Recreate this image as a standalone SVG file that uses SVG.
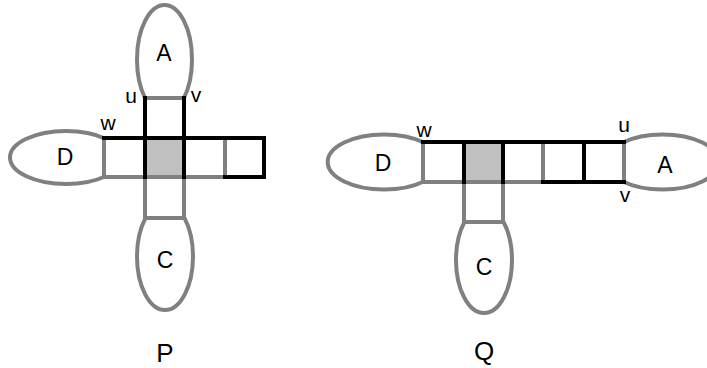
<svg xmlns="http://www.w3.org/2000/svg" width="707" height="368" viewBox="0 0 707 368">
<style>
.ell{fill:#fff;stroke:#808080;stroke-width:4}
.cell{fill:#fff;stroke:none}
.shade{fill:#c0c0c0;stroke:none}
.g{stroke:#808080;stroke-width:4;fill:none;stroke-linecap:square}
.k{stroke:#000;stroke-width:4;fill:none;stroke-linecap:square}
.big{font-family:"Liberation Sans",Arial,sans-serif;font-size:23px;text-anchor:middle;fill:#000}
.sm{font-family:"Liberation Sans",Arial,sans-serif;font-size:21px;text-anchor:middle;fill:#000}
.ttl{font-family:"Liberation Sans",Arial,sans-serif;font-size:26px;text-anchor:middle;fill:#000}
</style>
<rect width="707" height="368" fill="#fff"/>
<g id="P">
  <g id="P-A"><ellipse class="ell" cx="164.5" cy="59.5" rx="27.5" ry="54.5"/></g>
  <g id="P-C"><ellipse class="ell" cx="165" cy="256.5" rx="28" ry="53.5"/></g>
  <g id="P-D"><ellipse class="ell" cx="66" cy="157.5" rx="56" ry="26.5"/></g>
  <g id="P-cells">
    <rect class="cell" x="104" y="138" width="160" height="39"/>
    <rect class="cell" x="145" y="98" width="39" height="120"/>
    <rect class="shade" x="145" y="138" width="39" height="39"/>
  </g>
  <g id="P-lines">
    <path class="g" d="M145 98H184 M104 138V177 M104 177H225 M225 138V177 M145 177V218H184V177"/>
    <path class="k" d="M145 98V177 M184 98V177 M104 138H264V177H225"/>
  </g>
  <text class="big" x="164" y="61">A</text>
  <text class="big" x="165" y="268">C</text>
  <text class="big" x="65" y="165">D</text>
  <text class="sm" x="131" y="103">u</text>
  <text class="sm" x="196" y="102">v</text>
  <text class="sm" x="108" y="130">w</text>
  <text class="ttl" x="165" y="362">P</text>
</g>
<g id="Q">
  <g id="Q-D"><ellipse class="ell" cx="384" cy="162" rx="56.3" ry="27.5"/></g>
  <g id="Q-A"><ellipse class="ell" cx="662.6" cy="162" rx="56.3" ry="27.5"/></g>
  <g id="Q-C"><ellipse class="ell" cx="484" cy="260" rx="28" ry="53"/></g>
  <g id="Q-cells">
    <rect class="cell" x="423" y="142" width="201" height="40"/>
    <rect class="cell" x="464" y="142" width="39" height="80"/>
    <rect class="shade" x="464" y="142" width="39" height="40"/>
  </g>
  <g id="Q-lines">
    <path class="g" d="M423 142V182H543 M543 142V182 M624 142V182 M464 182V222H503V182"/>
    <path class="k" d="M423 142H624 M464 142V182 M503 142V182 M584 142V182 M543 182H624"/>
  </g>
  <text class="big" x="383" y="171">D</text>
  <text class="big" x="665" y="173">A</text>
  <text class="big" x="484" y="275">C</text>
  <text class="sm" x="424" y="137">w</text>
  <text class="sm" x="624" y="132">u</text>
  <text class="sm" x="625" y="202">v</text>
  <text class="ttl" x="484" y="360">Q</text>
</g>
<g id="connectors"></g>
</svg>
